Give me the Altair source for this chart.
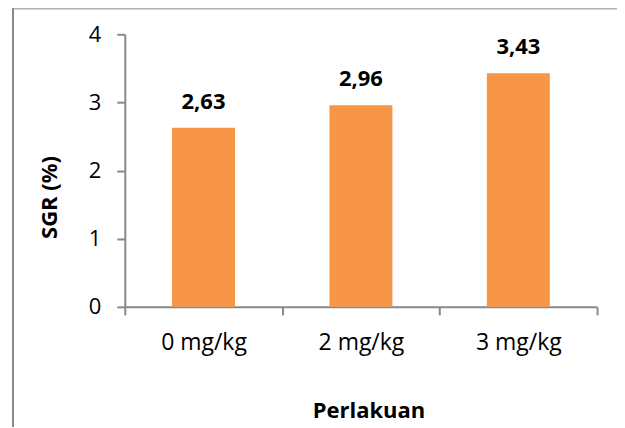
import altair as alt
import pandas as pd

categories = ["0 mg/kg", "2 mg/kg", "3 mg/kg"]
values = [2.63, 2.96, 3.43]
y_ticks = [0, 1, 2, 3, 4]

df = pd.DataFrame({
    "cat": categories,
    "val": values,
    "lbl": [f"{v:.2f}".replace(".", ",") for v in values],
})

FONT = "Open Sans"
AXIS_COLOR = "#898989"

x_enc = alt.X(
    "cat:N",
    sort=categories,
    scale=alt.Scale(paddingInner=0, paddingOuter=0),
    axis=alt.Axis(
        title="Perlakuan",
        labelAngle=0,
        labelFont=FONT,
        labelFontSize=23,
        labelColor="#000000",
        labelBaseline="alphabetic",
        labelPadding=35,
        tickBand="extent",
        tickSize=8,
        tickColor=AXIS_COLOR,
        tickWidth=2,
        domainColor=AXIS_COLOR,
        domainWidth=2,
        titleFont=FONT,
        titleFontSize=22,
        titleFontWeight="bold",
        titleColor="#000000",
        titleX=244,
        titleY=111,
        titleAlign="center",
        titleBaseline="alphabetic",
    ),
)

y_enc = alt.Y(
    "val:Q",
    scale=alt.Scale(domain=[0, 4], nice=False),
    axis=alt.Axis(
        title="SGR (%)",
        values=y_ticks,
        format="d",
        grid=False,
        labelFont=FONT,
        labelFontSize=22,
        labelColor="#000000",
        labelPadding=16,
        tickSize=8,
        tickColor=AXIS_COLOR,
        tickWidth=2,
        domainColor=AXIS_COLOR,
        domainWidth=2,
        titleFont=FONT,
        titleFontSize=22,
        titleFontWeight="bold",
        titleColor="#000000",
        titleAngle=270,
        titleX=-68,
        titleY=163,
        titleAlign="center",
        titleBaseline="alphabetic",
    ),
)

bars = alt.Chart(df).mark_bar(
    color="#F79646", width=alt.RelativeBandSize(0.4)
).encode(x=x_enc, y=y_enc)

texts = alt.Chart(df).mark_text(
    font=FONT, fontSize=22, fontWeight="bold", color="#000000",
    baseline="alphabetic", dy=-19,
).encode(x=alt.X("cat:N", sort=categories), y=alt.Y("val:Q"), text="lbl:N")

frame_df = pd.DataFrame({"a": [0]})
left_line = alt.Chart(frame_df).mark_rule(color=AXIS_COLOR, strokeWidth=2).encode(
    x=alt.value(-112), y=alt.value(-26), y2=alt.value(500)
)
top_line = alt.Chart(frame_df).mark_rule(color=AXIS_COLOR, strokeWidth=1).encode(
    x=alt.value(-113), x2=alt.value(600), y=alt.value(-25.5)
)

chart = alt.layer(bars, texts, left_line, top_line).properties(
    width=473,
    height=273,
    autosize=alt.AutoSizeParams(type="none"),
    padding={"left": 117, "top": 26, "right": 20, "bottom": 120},
).configure_view(strokeWidth=0)

chart.save("out.html", embed_options={"renderer": "svg", "actions": False})
